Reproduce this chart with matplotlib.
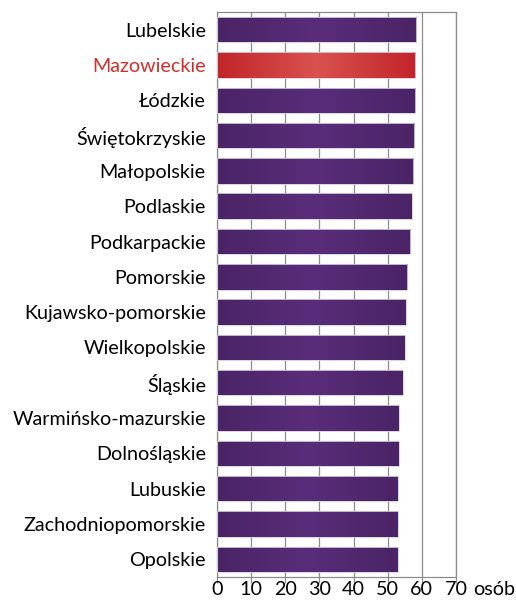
import numpy as np
import matplotlib.pyplot as plt
from matplotlib.colors import LinearSegmentedColormap

regions = ['Lubelskie', 'Mazowieckie', 'Łódzkie', 'Świętokrzyskie', 'Małopolskie',
           'Podlaskie', 'Podkarpackie', 'Pomorskie', 'Kujawsko-pomorskie',
           'Wielkopolskie', 'Śląskie', 'Warmińsko-mazurskie', 'Dolnośląskie',
           'Lubuskie', 'Zachodniopomorskie', 'Opolskie']
values = [58.3, 58.1, 58.0, 57.8, 57.5, 57.1, 56.6, 55.7, 55.3, 55.0, 54.4,
          53.3, 53.3, 53.0, 53.0, 52.9]
highlight = 'Mazowieckie'
xticks = [0, 10, 20, 30, 40, 50, 60, 70]

plt.rcParams['font.family'] = ['Lato', 'DejaVu Sans']

purple = LinearSegmentedColormap.from_list('p', ['#4a2466', '#5a2d7a', '#4a2466'])
red = LinearSegmentedColormap.from_list('r', ['#c2252a', '#d9524f', '#c2252a'])

fig = plt.figure(figsize=(5.16, 6.08), dpi=100)
ax = fig.add_axes([0.4205, 0.051, 0.4632, 0.9293])

y = np.arange(len(regions))
h = 0.72
bars = ax.barh(y, values, height=h, color='none', edgecolor='#d8cfe0', linewidth=0.6, zorder=3)
grad = np.linspace(0, 1, 256).reshape(1, -1)
for b, name, v, yy in zip(bars, regions, values, y):
    cm = red if name == highlight else purple
    im = ax.imshow(grad, cmap=cm, aspect='auto', extent=(0, v, yy + h / 2, yy - h / 2),
                   zorder=2, interpolation='bilinear')
    im.set_clip_path(b)

ax.set_xlim(0, 70)
ax.set_ylim(len(regions) - 0.5, -0.5)
ax.set_xticks(xticks)
ax.set_yticks(y)
ax.set_yticklabels(regions, fontsize=14.2)
for lab in ax.get_yticklabels():
    if lab.get_text() == highlight:
        lab.set_color('#d0302c')
ax.tick_params(axis='y', length=0, pad=8)
ax.tick_params(axis='x', length=4, color='#8c8c8c', labelsize=14.2, pad=-1)
ax.grid(axis='x', color='#8c8c8c', linewidth=0.9, zorder=1)
ax.set_axisbelow(True)
for s in ax.spines.values():
    s.set_color('#8c8c8c')
    s.set_linewidth(0.9)
ax.annotate('osób', xy=(1, 0), xycoords='axes fraction', xytext=(12, -3),
            textcoords='offset points', fontsize=14.2, va='top', ha='left')

fig.savefig('out.png', dpi=100)
